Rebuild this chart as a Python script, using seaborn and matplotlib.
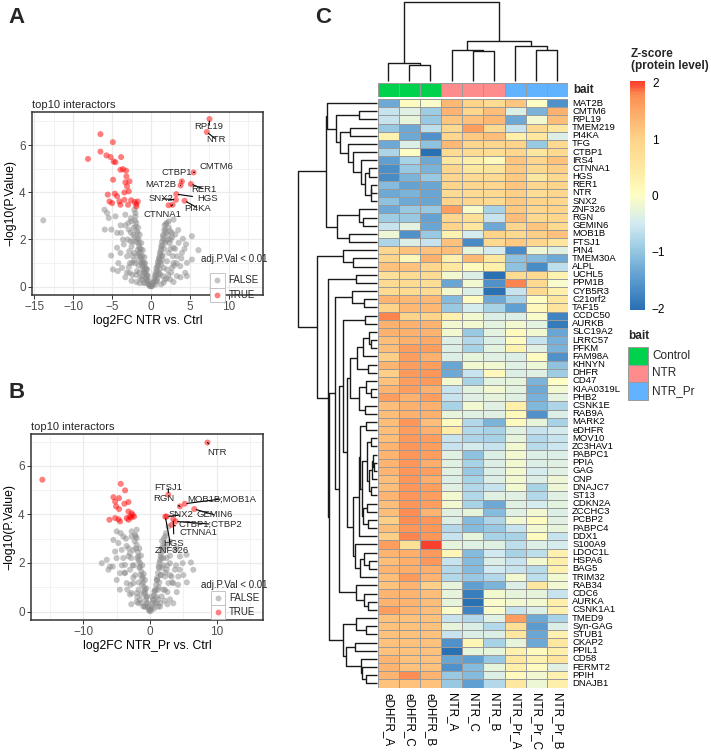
import numpy as np
import pandas as pd
import matplotlib
matplotlib.use("Agg")
import matplotlib.pyplot as plt
import seaborn as sns
from matplotlib.colors import LinearSegmentedColormap, ListedColormap, Normalize
from matplotlib.patches import Rectangle
import matplotlib.cm as cm

sns.set_theme(style="white")
plt.rcParams["font.family"] = ["Liberation Sans", "DejaVu Sans"]

# ---------------- DATA: volcano A (NTR vs Ctrl) ----------------
A_gray_x = [-13.85, -5.64, -5.43, -5.94, -5.1, -5.13, -4.9, -4.36, -4.57, -3.3, -3.85, -2.86, -2.65, -2.3, -2.2,
            -2.0, -1.88, -1.7, -1.54, -1.37, -1.15, -0.94, -0.6, -0.3, 0.0, 0.26, 0.56, 0.85, 1.1, 1.32, 1.54,
            1.84, 2.05, 2.48, 2.56, 2.9, 3.33, 3.76, 2.05, 1.62, 1.2, 0.77, -2.44, -1.8, -1.37, -0.94, -3.08,
            -3.72, -2.74, -1.88, -0.51, -4.36, -2.52, -2.14, -2.0, -5.98, -3.5, -2.14, -3.93, -4.27, -2.86, 2.9,
            2.69, 3.12, 3.55, 3.97, 4.62, 5.26, 4.4, 3.33, 2.48, 1.62, 2.26, 1.84, 2.05, 2.9, 1.41, 4.62, 2.69,
            5.26, 4.1, 6.1, 2.26,
            -0.2, -0.45, -0.7, -0.8, -1.0, -1.2, -1.4, -1.6, -1.7, -1.9, -2.1, -2.2, -1.6, -1.3, -1.1, -0.9,
            -0.7, -0.5, -2.5, -2.8, -3.0, -3.3, -2.6, -1.5, -2.0, -2.4, -3.3, -1.2,
            0.2, 0.4, 0.6, 0.7, 0.9, 1.0, 1.2, 1.4, 1.6, 1.75, 1.95, 2.2, 1.5, 1.3, 1.0, 0.8, 2.5, 2.8, 3.0,
            2.2, 3.8, 1.8, 3.5, 4.5,
            -0.1, -0.25, -0.35, -0.55, -0.65, -0.85, -0.95, -1.05, -1.25, -1.35, -1.45, -1.55, -1.75, -1.85,
            -1.95, -2.05, -1.65, -1.45, -1.25, -1.05, -0.85, -0.75, -0.6, -0.4, -2.3, -2.6, -2.9, -2.4, -2.7,
            -3.1, -1.8, -1.6, -1.9, -1.1, -0.8, -3.6, -3.9, -4.2, -2.5, -1.45,
            0.1, 0.3, 0.45, 0.55, 0.75, 0.9, 1.05, 1.15, 1.3, 1.45, 1.55, 1.7, 1.9, 2.3, 2.1, 1.9, 1.7, 1.4,
            1.2, 1.1, 0.9, 0.65, 2.4, 2.7, 3.1, 3.3, 2.6, 2.0, 1.5, 3.9, 4.3, 2.9, 1.3, 0.6]
A_gray_y = [2.81, 3.12, 2.91, 2.42, 2.42, 1.32, 0.73, 1.65, 2.98, 3.05, 2.28, 2.42, 1.93, 2.2, 1.43, 2.98,
            2.7, 2.28, 1.72, 1.29, 0.87, 0.59, 0.31, 0.1, 0.03, 0.17, 0.45, 0.87, 1.29, 1.72, 2.14, 2.42, 2.7,
            2.35, 2.0, 1.65, 1.29, 0.87, 1.08, 0.8, 0.52, 0.24, 1.01, 0.66, 0.38, 0.17, 1.29, 0.8, 0.59, 0.2,
            0.73, 2.28, 2.77, 3.26, 3.12, 3.26, 1.79, 1.11, 1.43, 0.66, 0.83, 2.84, 2.28, 2.21, 1.86, 1.43,
            1.01, 1.15, 0.59, 0.45, 0.31, 0.17, 1.43, 1.86, 0.73, 1.01, 1.15, 0.45, 0.8, 2.14, 2.03, 1.55, 2.77,
            0.05, 0.2, 0.4, 0.6, 0.75, 1.0, 1.1, 1.4, 1.55, 1.9, 2.1, 2.5, 2.0, 1.6, 1.3, 1.0, 0.8, 0.5, 1.7,
            1.5, 2.0, 2.6, 2.9, 0.6, 1.0, 0.5, 0.4, 0.3,
            0.05, 0.25, 0.6, 0.8, 1.05, 1.15, 1.5, 1.9, 2.2, 2.6, 2.3, 2.0, 1.3, 0.95, 0.6, 0.35, 1.6, 1.3, 0.9,
            0.5, 0.4, 0.3, 2.4, 1.8,
            0.02, 0.12, 0.25, 0.35, 0.55, 0.7, 0.9, 1.05, 1.2, 1.45, 1.6, 1.85, 2.05, 2.35, 2.55, 2.8, 2.5, 2.2,
            1.85, 1.55, 1.25, 1.0, 0.75, 0.45, 1.9, 2.3, 2.7, 1.3, 1.0, 0.6, 1.3, 0.9, 0.5, 0.45, 0.15, 2.0,
            2.6, 1.0, 0.25, 0.15,
            0.02, 0.15, 0.35, 0.5, 0.7, 0.95, 1.2, 1.4, 1.6, 1.75, 2.0, 2.4, 2.65, 2.5, 2.2, 1.95, 1.6, 1.35,
            1.05, 0.75, 0.5, 0.25, 1.85, 2.1, 1.6, 1.0, 0.6, 0.35, 0.45, 1.2, 1.6, 0.2, 0.1, 0.1]
A_sig_x = [-8.1, -6.5, -6.5, -5.73, -5.2, -4.9, -4.8, -4.57, -3.85, -4.87, -3.93, -3.6, -3.2, -3.16, -3.3,
           -2.78, -3.08, -2.86, -3.42, -5.56, -4.66, -4.36, -5.34, -5.0, -4.06, -3.42, -3.93, -2.95, -2.56,
           -2.09, -1.88, -1.7, -1.9, 2.26]
A_sig_y = [5.41, 6.46, 5.72, 5.56, 5.49, 6.12, 5.3, 5.27, 5.49, 4.53, 4.95, 4.98, 4.91, 4.67, 4.42, 4.46,
           4.25, 4.04, 3.99, 3.9, 3.94, 3.83, 3.61, 3.54, 3.61, 3.68, 3.47, 3.47, 3.66, 3.59, 3.4, 3.61, 3.5, 3.45]
A_lab_names = ["RPL19", "NTR", "CMTM6", "CTBP1", "MAT2B", "RER1", "HGS", "SNX2", "PI4KA", "CTNNA1"]
A_lab_x = [7.52, 7.18, 5.47, 3.97, 3.80, 5.13, 3.25, 3.2, 4.32, 2.78]
A_lab_y = [7.10, 6.55, 4.84, 4.46, 4.29, 4.35, 3.92, 3.68, 3.64, 3.47]

# ---------------- DATA: volcano B (NTR_Pr vs Ctrl) ----------------
B_gray_x = [-4.98, -4.38, -5.47, -2.74, -2.24, -1.99, -2.49, -1.74, -1.49, -1.09, -0.75, -0.4, 0.0, 0.4, 0.65,
            1.0, 1.29, 1.59, 1.89, 2.09, 2.39, 2.74, -6.47, -7.21, -6.22, -5.57, -4.98, -4.48, -3.73, -3.23,
            -4.23, -4.73, -2.99, -2.49, -1.99, -1.49, -1.0, -3.48, -2.74, -1.74, 4.48, 5.47, 6.12, 4.88, 3.73,
            3.23, 2.74, 2.24, 1.74, 1.0, 3.48, 4.23, 4.48, 2.49, 2.99, 2.24, 3.48, 6.47, 3.73, 2.49, 2.99,
            -1.99, -2.74, -3.98, -5.97, -5.22, -3.73, -0.5, 0.25,
            -0.2, -0.6, -0.9, -1.2, -1.4, -1.6, -1.9, -2.1, -2.3, -1.3, -1.7, -2.2, -2.6, -3.0, -3.5, -4.0,
            -2.0, -3.0, -4.5, -0.8,
            0.2, 0.5, 0.8, 1.1, 1.4, 1.6, 1.8, 2.0, 1.3, 1.6, 2.0, 2.5, 1.2, 2.0, 3.0, 4.0, 5.0, 2.6, 1.5,
            -0.1, -0.3, -0.45, -0.55, -0.7, -0.85, -1.0, -1.15, -1.3, -1.5, -1.7, -1.8, -2.0, -2.15, -1.6,
            -1.35, -1.15, -0.95, -0.75, -0.55, -2.4, -2.8, -3.2, -2.5, -2.9, -3.4, -1.7, -1.9, -1.3, -0.7,
            -3.8, -4.2, -5.0, -2.8, -3.6,
            0.1, 0.3, 0.45, 0.6, 0.75, 0.9, 1.05, 1.2, 1.35, 1.5, 1.7, 1.8, 2.2, 2.3, 2.0, 1.8, 1.6, 1.4, 1.2,
            1.0, 0.8, 2.3, 2.6, 3.0, 3.3, 2.6, 2.2, 1.6, 3.9, 4.2, 5.5, 3.0, 1.2, 0.6, 4.0]
B_gray_y = [3.3, 3.23, 2.95, 3.09, 3.16, 3.02, 2.54, 2.27, 1.85, 1.44, 0.89, 0.34, 0.07, 0.34, 0.82, 1.3,
            1.85, 2.27, 2.68, 3.02, 3.23, 3.5, 2.13, 1.99, 1.72, 1.85, 1.3, 1.58, 1.92, 2.27, 2.54, 2.82, 1.72,
            1.17, 0.76, 0.48, 0.21, 1.17, 0.76, 0.34, 2.27, 2.34, 2.02, 1.99, 1.72, 1.44, 1.17, 0.89, 0.62,
            0.34, 1.17, 1.44, 1.72, 1.72, 1.99, 1.44, 0.34, 1.72, 2.54, 2.68, 2.88, 3.37, 3.3, 3.09, 1.85,
            2.47, 1.58, 0.62, 0.62,
            0.1, 0.5, 0.8, 1.1, 1.5, 1.8, 2.2, 2.6, 2.9, 0.7, 1.2, 1.5, 1.9, 2.4, 2.7, 2.2, 0.4, 0.7, 0.9, 0.2,
            0.1, 0.5, 0.9, 1.4, 2.0, 2.4, 2.9, 2.5, 1.0, 1.5, 1.9, 2.2, 0.5, 0.9, 2.3, 0.8, 1.5, 0.3, 0.2,
            0.02, 0.2, 0.35, 0.6, 0.75, 1.0, 1.2, 1.35, 1.65, 2.0, 2.1, 2.45, 2.75, 3.1, 2.6, 2.3, 1.9, 1.55,
            1.3, 0.95, 1.9, 2.2, 2.6, 1.4, 1.1, 0.9, 0.9, 0.6, 0.35, 0.2, 1.6, 1.9, 2.2, 0.3, 3.0,
            0.02, 0.2, 0.45, 0.65, 0.85, 1.1, 1.3, 1.6, 1.8, 2.1, 2.2, 2.6, 2.8, 3.1, 2.2, 1.8, 1.5, 1.2, 0.9,
            0.6, 0.35, 1.6, 1.9, 1.5, 1.2, 0.8, 0.45, 0.35, 1.9, 1.1, 1.2, 0.5, 0.2, 0.12, 2.6]
B_sig_x = [-16.1, -4.38, -3.73, -5.47, -4.63, -5.22, -3.23, -3.83, -5.07, -4.63, -3.23, -2.74, -2.99, -2.59,
           -2.39, -3.48, -6.07, -5.22, -4.73, -4.48, -3.23, -2.84]
B_sig_y = [5.43, 5.26, 4.99, 4.71, 4.67, 4.53, 4.51, 4.44, 4.33, 4.22, 4.12, 4.05, 3.91, 3.97, 3.91, 3.85,
           3.78, 3.85, 3.8, 3.71, 3.78, 3.87]
B_lab_names = ["NTR", "FTSJ1", "RGN", "MOB1B;MOB1A", "GEMIN6", "SNX2", "CTBP1;CTBP2", "CTNNA1", "HGS", "ZNF326"]
B_lab_x = [8.6, 2.74, 4.48, 5.22, 6.62, 2.49, 3.83, 3.23, 3.48, 2.29]
B_lab_y = [6.96, 4.81, 4.33, 4.44, 4.22, 3.91, 3.71, 3.57, 3.8, 3.91]

# ---------------- DATA: heatmap ----------------
genes = ["MAT2B", "CMTM6", "RPL19", "TMEM219", "PI4KA", "TFG", "CTBP1", "IRS4", "CTNNA1", "HGS", "RER1", "NTR",
         "SNX2", "ZNF326", "RGN", "GEMIN6", "MOB1B", "FTSJ1", "PIN4", "TMEM30A", "ALPL", "UCHL5", "PPM1B",
         "CYB5R3", "C21orf2", "TAF15", "CCDC50", "AURKB", "SLC19A2", "LRRC57", "PFKM", "FAM98A", "KHNYN",
         "DHFR", "CD47", "KIAA0319L", "PHB2", "CSNK1E", "RAB9A", "MARK2", "eDHFR", "MOV10", "ZC3HAV1",
         "PABPC1", "PPIA", "GAG", "CNP", "DNAJC7", "ST13", "CDKN2A", "ZCCHC3", "PCBP2", "PABPC4", "DDX1",
         "S100A9", "LDOC1L", "HSPA6", "BAG5", "TRIM32", "RAB34", "CDC6", "AURKA", "CSNK1A1", "TMED9",
         "Syn-GAG", "STUB1", "CKAP2", "PPIL1", "CD58", "FERMT2", "PPIH", "DNAJB1"]
samples = ["eDHFR_A", "eDHFR_C", "eDHFR_B", "NTR_A", "NTR_C", "NTR_B", "NTR_Pr_A", "NTR_Pr_C", "NTR_Pr_B"]
bait = ["Control", "Control", "Control", "NTR", "NTR", "NTR", "NTR_Pr", "NTR_Pr", "NTR_Pr"]
bait_levels = ["Control", "NTR", "NTR_Pr"]

eDHFR_A = [-1.3, -0.6, -0.6, -0.95, 0.25, -1.3, -0.8, -1.45, -1.65, -1.7, -1.1, -1.3, -1.05, -1.3, -0.9, -0.6,
           -0.2, -0.8, 0.9, 0.9, 1.2, 0.65, 0.8, 0.8, 1.35, 1.0, 1.8, 1.4, 1.4, 1.25, 1.25, 1.05, 1.35, 1.05,
           1.2, 1.35, 1.6, 1.25, 1.25, 1.25, 1.25, 1.25, 1.35, 1.35, 1.35, 1.35, 1.25, 1.25, 1.35, 1.25, 1.25,
           1.05, 1.25, 1.05, 1.6, 1.35, 1.25, 1.35, 1.25, 1.2, 1.35, 1.35, 1.6, 1.2, 1.2, 1.2, 1.2, 1.2, 1.35,
           1.35, 1.35, 1.2]
eDHFR_C = [0.05, -0.35, -0.25, -1.3, -1.3, -0.4, 0.0, -0.85, -0.95, -1.2, -1.4, -1.2, -1.3, -0.95, -0.95, -0.3,
           -1.6, -0.4, 1.2, 0.15, 1.2, 0.8, 0.8, 0.8, 1.3, 1.3, 1.0, 1.4, 1.4, 1.4, 1.6, 1.6, 1.6, 1.65, 1.6,
           1.6, 1.4, 1.4, 1.4, 1.7, 1.6, 1.65, 1.7, 1.7, 1.7, 1.7, 1.7, 1.7, 1.7, 1.7, 1.75, 1.75, 1.7, 1.8,
           0.7, 1.45, 1.45, 1.45, 1.65, 1.35, 1.35, 1.35, 1.35, 1.2, 1.2, 1.2, 1.2, 1.2, 1.2, 1.2, 1.75, 1.2]
eDHFR_B = [-0.05, -0.9, -0.95, -0.65, -1.6, -1.05, -2.1, -1.3, -1.2, -0.95, -1.35, -1.35, -1.35, -0.95, -1.4,
           -1.35, -0.95, -0.6, 1.2, 1.4, 0.9, 0.8, 0.75, 0.8, 1.3, 1.3, 1.0, 1.35, 1.35, 1.5, 1.6, 1.4, 1.6,
           1.7, 1.65, 1.4, 1.6, 1.4, 1.4, 1.25, 1.4, 1.6, 1.6, 1.6, 1.45, 1.6, 1.45, 1.6, 1.6, 1.6, 1.35, 1.7,
           1.7, 1.7, 2.2, 1.65, 1.7, 1.45, 1.35, 1.05, 1.25, 1.25, 1.25, 1.2, 1.2, 1.2, 1.2, 1.2, 1.2, 1.2,
           1.35, 1.2]
NTR_A = [1.3, 1.35, 1.15, 0.85, 0.9, 1.3, 0.8, 0.5, 0.9, 0.9, 1.0, 0.8, 1.0, 1.6, 0.9, 1.0, 0.25, 1.2, 1.25,
         0.3, 0.5, -0.15, -1.35, -0.15, -1.1, -0.95, 0.3, -0.15, -0.15, -0.4, -0.4, -0.4, -1.35, -1.3, -0.15,
         -0.6, -0.6, -0.85, -0.25, 0.05, 0.4, -0.6, -0.6, -0.35, -0.35, -0.35, -0.4, -0.35, -0.15, -0.15,
         -0.35, -0.4, -0.75, -0.6, -0.25, 0.2, -0.6, -0.75, -0.75, -0.25, -0.25, -0.25, -0.05, -0.6, -0.25,
         -0.6, -1.6, -2.1, -1.35, -1.6, -0.95, -0.95]
NTR_C = [1.0, 0.9, 1.2, 1.6, 1.1, 0.9, 0.8, 0.35, 0.5, 0.8, 0.9, 0.8, 0.9, -0.05, 0.7, 0.5, -0.45, -1.7,
         -0.25, 1.3, 0.1, -0.4, -0.15, -0.4, 0.05, -0.45, -0.15, -0.15, -0.95, -0.75, -0.85, -0.25, -0.15,
         -0.6, -0.85, -0.3, -0.35, -0.15, -0.35, -0.75, -0.75, -0.8, -0.45, -1.05, -0.85, -0.95, -0.85, -0.75,
         -0.75, -0.85, -0.25, -1.1, -1.1, -0.25, -0.35, -1.1, -1.1, -1.1, -0.95, -1.45, -1.85, -2.1, -1.75,
         -0.75, -0.4, -0.4, 0.2, -0.25, -1.45, -1.1, -1.1, -1.45]
NTR_B = [0.8, 1.25, 1.3, 0.85, 1.25, 0.9, 0.75, 0.1, 0.6, 0.8, 0.9, 0.85, 0.8, -0.85, -0.6, -1.3, 1.0, 0.85,
         -0.45, 0.5, 0.35, -2.1, -1.6, -2.1, -1.3, -0.85, -0.4, -0.3, -0.3, -0.4, -0.3, -0.35, -0.15, 0.15,
         -0.3, -0.15, -0.25, -0.35, -0.35, -1.2, -0.85, -0.85, -0.6, -0.4, -0.4, -0.4, -0.4, -0.6, -0.35,
         -1.3, -1.1, -0.8, -0.95, -0.85, -0.35, -0.5, -0.4, -0.5, -0.75, -1.2, -0.15, -0.05, -0.05, -0.35,
         -0.75, -0.4, -0.85, -0.25, -0.95, -0.25, -0.4, -0.75]
NTR_Pr_A = [1.15, -0.4, -1.3, -0.6, 0.35, 1.0, 0.9, 1.15, 1.1, 1.1, 1.15, 1.05, 1.1, 1.1, 1.25, 0.9, 0.85,
            1.1, -1.7, -1.05, -1.05, 0.8, 1.8, -0.6, -0.85, -1.45, -0.4, -0.15, 0.1, 0.05, 0.25, -0.4, -0.35,
            -0.4, -0.25, -0.3, -0.35, 0.35, 0.15, 0.1, -0.35, -0.25, -0.15, -0.15, -0.15, -0.15, -0.15, -0.15,
            -0.35, -0.35, -0.35, -0.15, -0.6, -0.85, -0.65, -0.85, -0.6, -0.6, -0.15, -0.4, -0.25, -0.15, -0.6,
            1.6, 0.7, 0.5, -0.25, 0.3, 0.5, 0.35, 0.1, 0.5]
NTR_Pr_C = [0.0, -1.2, -0.15, 0.85, 0.5, -0.95, 0.5, 0.9, 0.85, 0.5, 0.9, 0.75, 1.0, 0.9, 0.85, 1.15, 1.05,
            0.9, -0.2, -1.1, -1.7, 0.85, 0.85, 0.85, 0.0, 0.15, -0.05, -0.3, -0.15, -0.6, -0.35, 0.05, -0.2,
            -0.35, -1.2, -1.3, -1.25, -1.15, -1.6, -0.25, -0.6, -0.75, -0.7, -0.4, -0.4, -0.45, -0.4, -0.85,
            -0.75, -0.45, -0.15, 0.05, -0.15, 0.05, -0.4, -0.65, -0.15, -0.7, -0.65, 0.5, -0.25, -0.15, -0.4,
            -1.3, -1.5, -1.35, -1.3, 0.1, 0.3, 0.05, -0.15, -0.2]
NTR_Pr_B = [-1.6, 1.4, 1.25, 0.5, -0.4, 0.85, 0.85, 1.2, 1.05, 0.85, 1.0, 0.9, 0.9, 1.0, 0.9, 0.85, 1.2, 0.55,
            -0.35, -1.3, -0.65, 0.25, -0.05, 0.35, 0.55, 0.6, -1.75, -1.9, -1.35, -1.25, -1.2, -1.6, -1.05,
            -0.9, 0.0, -0.15, -0.3, -0.8, -0.4, -0.85, -0.45, -0.6, -0.55, -0.4, -0.35, -0.35, -0.2, -0.2,
            -0.35, -0.3, -0.4, -0.35, -0.25, -0.6, -0.45, 0.3, 0.35, 0.3, -0.15, -0.15, -0.6, 0.35, 0.3, -0.85,
            -0.4, 0.3, 0.5, 0.35, 0.6, -0.35, 0.3, 0.35]

# column dendrogram topology (as seen in the figure)
col_tree = ((0, (1, 2)), ((3, (4, 5)), (6, (7, 8))))

# ---------------- LAYOUT ----------------
W, H = 711, 753
fig = plt.figure(figsize=(W / 100, H / 100), dpi=100)


def rect(l, t, r, b):
    return [l / W, 1 - b / H, (r - l) / W, (b - t) / H]


def fx(x):
    return x / W


def fy(y):
    return 1 - y / H


GRID = "#ebebeb"
TXT = "#4d4d4d"
GREY_PT = "#8a8a8a"
RED_PT = "#ff0000"


def volcano(box, gx, gy, sx, sy, lnames, lx, ly, loffs, xlim, ylim, xmaj, xmin, xlabel, leg):
    ax = fig.add_axes(rect(*box))
    df = pd.DataFrame({"x": list(gx) + list(sx) + list(lx), "y": list(gy) + list(sy) + list(ly),
                       "sig": ["FALSE"] * len(gx) + ["TRUE"] * (len(sx) + len(lx))})
    sns.scatterplot(data=df, x="x", y="y", hue="sig", palette={"FALSE": GREY_PT, "TRUE": RED_PT},
                    alpha=0.5, s=19, linewidth=0, ax=ax, legend=False, zorder=3)
    for v in xmaj:
        ax.axvline(v, color=GRID, lw=0.9, zorder=0)
    for v in xmin:
        ax.axvline(v, color=GRID, lw=0.45, zorder=0)
    for v in [0, 2, 4, 6]:
        ax.axhline(v, color=GRID, lw=0.9, zorder=0)
    for v in [1, 3, 5, 7]:
        ax.axhline(v, color=GRID, lw=0.45, zorder=0)
    ax.set_xlim(*xlim)
    ax.set_ylim(*ylim)
    ax.set_xticks(xmaj)
    ax.set_yticks([0, 2, 4, 6])
    for s in ax.spines.values():
        s.set_color("#333333")
        s.set_linewidth(1.1)
    ax.tick_params(direction="out", length=3, width=0.7, color="#333333", labelsize=8.5, labelcolor=TXT, pad=1.5,
                   bottom=True, left=True)
    ax.set_xlabel(xlabel, fontsize=8.8, color="black", labelpad=1)
    ax.set_ylabel("\u2212log10(P.Value)", fontsize=8.8, color="black", labelpad=2)
    ax.set_title("top10 interactors", fontsize=8, loc="left", pad=3)
    for name, px, py in zip(lnames, lx, ly):
        tx, ty = loffs[name]
        ax.annotate(name, xy=(px, py), xytext=(tx, ty), fontsize=6.8, ha="center", va="center", zorder=5,
                    arrowprops=dict(arrowstyle="-", lw=0.8, color="black", shrinkA=1, shrinkB=1.5))
    # legend drawn like ggplot's (title + boxed keys)
    tl, ty0, kx, ktop, ks = leg
    fig.text(fx(tl), fy(ty0), "adj.P.Val < 0.01", fontsize=7, va="center", ha="left")
    for i, (lab, col) in enumerate([("FALSE", GREY_PT), ("TRUE", RED_PT)]):
        t = ktop + i * ks
        fig.add_artist(Rectangle((fx(kx), fy(t + ks)), ks / W, ks / H, transform=fig.transFigure,
                                 facecolor="white", edgecolor="#bdbdbd", lw=0.6, zorder=6))
        fig.add_artist(plt.Line2D([fx(kx + ks / 2)], [fy(t + ks / 2)], marker="o", ms=4.2, mew=0, color=col,
                                  alpha=0.5, transform=fig.transFigure, zorder=7))
        fig.text(fx(kx + ks + 4), fy(t + ks / 2), lab, fontsize=7, va="center", ha="left")
    return ax


A_offs = {"RPL19": (7.48, 6.78), "NTR": (8.35, 6.24), "CMTM6": (8.35, 5.09), "CTBP1": (3.33, 4.85),
          "MAT2B": (1.2, 4.32), "RER1": (6.84, 4.13), "SNX2": (1.28, 3.73), "HGS": (7.26, 3.73),
          "PI4KA": (6.03, 3.33), "CTNNA1": (1.41, 3.05)}
B_offs = {"NTR": (9.95, 6.55), "FTSJ1": (2.74, 5.12), "RGN": (1.99, 4.67), "MOB1B;MOB1A": (10.7, 4.64),
          "SNX2": (4.58, 3.98), "GEMIN6": (9.7, 3.98), "CTBP1;CTBP2": (9.05, 3.6), "CTNNA1": (7.31, 3.26),
          "HGS": (3.58, 2.82), "ZNF326": (3.23, 2.5)}

volcano((32, 111.7, 263, 295), A_gray_x, A_gray_y, A_sig_x, A_sig_y, A_lab_names, A_lab_x, A_lab_y, A_offs,
        (-15.3, 14.4), (-0.35, 7.41), [-15, -10, -5, 0, 5, 10], [-12.5, -7.5, -2.5, 2.5, 7.5, 12.5],
        "log2FC NTR vs. Ctrl", (201, 259, 210, 273, 14.5))
volcano((31, 434.3, 263, 620), B_gray_x, B_gray_y, B_sig_x, B_sig_y, B_lab_names, B_lab_x, B_lab_y, B_offs,
        (-17.8, 16.9), (-0.35, 7.3), [-10, 0, 10], [-15, -5, 5, 15],
        "log2FC NTR_Pr vs. Ctrl", (201, 585, 211, 591, 13.8))

fig.text(fx(8), fy(17.5), "A", fontsize=16, fontweight="bold", va="center", ha="left")
fig.text(fx(8), fy(393), "B", fontsize=16, fontweight="bold", va="center", ha="left")
fig.text(fx(315), fy(17.5), "C", fontsize=16, fontweight="bold", va="center", ha="left")

# ---------------- HEATMAP ----------------
mat = pd.DataFrame({"eDHFR_A": eDHFR_A, "eDHFR_C": eDHFR_C, "eDHFR_B": eDHFR_B, "NTR_A": NTR_A,
                    "NTR_C": NTR_C, "NTR_B": NTR_B, "NTR_Pr_A": NTR_Pr_A, "NTR_Pr_C": NTR_Pr_C,
                    "NTR_Pr_B": NTR_Pr_B}, index=genes)[samples]
VMIN, VMAX = -2.03, 2.03
stops = [(-2.03, "#2a71b4"), (-1.5, "#5b9bcf"), (-1.0, "#94c6e1"), (-0.5, "#d3ebf1"), (0.0, "#fefec4"),
         (0.5, "#fee8a0"), (1.0, "#fed38a"), (1.5, "#fdaa68"), (1.8, "#fc8c52"), (2.03, "#f8402c")]
cmap = LinearSegmentedColormap.from_list("zs", [((v - VMIN) / (VMAX - VMIN), c) for v, c in stops], N=100)
CELL_LINE = "#9a9a9a"

HL, HR, HT, HB = 377.5, 568, 99, 687.5
axh = fig.add_axes(rect(HL, HT, HR, HB))
sns.heatmap(mat, cmap=cmap, vmin=VMIN, vmax=VMAX, cbar=False, linewidths=0.7, linecolor=CELL_LINE, ax=axh,
            xticklabels=True, yticklabels=True)
axh.yaxis.tick_right()
axh.tick_params(axis="y", length=0, pad=3, labelsize=6.8, labelcolor="black")
axh.tick_params(axis="x", length=0, pad=4, labelsize=8.4, labelcolor="black")
plt.setp(axh.get_yticklabels(), rotation=0, ha="left", va="center")
plt.setp(axh.get_xticklabels(), rotation=270, ha="center", va="top")
axh.set_xlabel("")
axh.set_ylabel("")

# annotation bar
bait_pal = {"Control": "#00d24e", "NTR": "#ff8c8c", "NTR_Pr": "#62b3ff"}
codes = pd.DataFrame([[bait_levels.index(b) for b in bait]], columns=samples, index=["bait"])
axa = fig.add_axes(rect(HL, 83, HR, 96.5))
sns.heatmap(codes, cmap=ListedColormap([bait_pal[b] for b in bait_levels]), vmin=-0.5, vmax=2.5, cbar=False,
            linewidths=0.7, linecolor=CELL_LINE, ax=axa, xticklabels=False, yticklabels=False)
fig.text(fx(573), fy(90), "bait", fontsize=8.4, fontweight="bold", va="center", ha="left")


# ---------------- DENDROGRAMS ----------------
def cdist(X, a, b):
    A = X[a]
    B = X[b]
    return np.sqrt(((A[:, None, :] - B[None, :, :]) ** 2).sum(-1)).max()


def contig_tree(X):
    cl = [dict(m=[i], p=i + 0.5, h=0.0) for i in range(len(X))]
    segs = []
    while len(cl) > 1:
        ds = [cdist(X, cl[i]["m"], cl[i + 1]["m"]) for i in range(len(cl) - 1)]
        k = int(np.argmin(ds))
        a, b = cl[k], cl[k + 1]
        h = max(ds[k], a["h"], b["h"])
        segs.append((a["p"], a["h"], b["p"], b["h"], h))
        cl[k:k + 2] = [dict(m=a["m"] + b["m"], p=(a["p"] + b["p"]) / 2, h=h)]
    return segs, cl[0]["h"]


def nested_tree(node, X, segs):
    if isinstance(node, int):
        return dict(m=[node], p=node + 0.5, h=0.0)
    a = nested_tree(node[0], X, segs)
    b = nested_tree(node[1], X, segs)
    h = max(cdist(X, a["m"], b["m"]), a["h"], b["h"])
    segs.append((a["p"], a["h"], b["p"], b["h"], h))
    return dict(m=a["m"] + b["m"], p=(a["p"] + b["p"]) / 2, h=h)


X = mat.values
rsegs, rmax = contig_tree(X)
axr = fig.add_axes(rect(298, HT, HL - 1, HB))
for pa, ha, pb, hb, h in rsegs:
    axr.plot([ha, h, h, hb], [pa, pa, pb, pb], color="#1a1a1a", lw=1.0, clip_on=False, solid_capstyle="butt")
axr.set_xlim(rmax, 0)
axr.set_ylim(len(genes), 0)
axr.axis("off")

csegs = []
croot = nested_tree(col_tree, X.T, csegs)
axc = fig.add_axes(rect(HL, 2, HR, 81))
for pa, ha, pb, hb, h in csegs:
    axc.plot([pa, pa, pb, pb], [ha, h, h, hb], color="#1a1a1a", lw=1.0, clip_on=False, solid_capstyle="butt")
axc.set_xlim(0, len(samples))
axc.set_ylim(0, croot["h"])
axc.axis("off")

# ---------------- COLORBAR ----------------
cax = fig.add_axes(rect(630, 81, 645, 310))
cb = fig.colorbar(cm.ScalarMappable(norm=Normalize(VMIN, VMAX), cmap=cmap), cax=cax, ticks=[-2, -1, 0, 1, 2])
cb.outline.set_visible(False)
cax.tick_params(length=0, labelsize=8.5, pad=5, labelcolor="black")
cax.set_yticklabels(["\u22122", "\u22121", "0", "1", "2"])
fig.text(fx(631), fy(60), "Z-score\n(protein level)", fontsize=8.5, fontweight="bold", va="center",
         ha="left", linespacing=1.05)

# bait legend
fig.text(fx(628), fy(336), "bait", fontsize=8.5, fontweight="bold", va="center", ha="left")
for i, lev in enumerate(bait_levels):
    top = 347 + i * 17.5
    fig.add_artist(Rectangle((fx(628), fy(top + 17.5)), 20 / W, 17.5 / H, transform=fig.transFigure,
                             facecolor=bait_pal[lev], edgecolor=CELL_LINE, lw=0.7))
    fig.text(fx(652), fy(top + 9), lev, fontsize=8.5, va="center", ha="left")

fig.savefig("out.png", dpi=100)
